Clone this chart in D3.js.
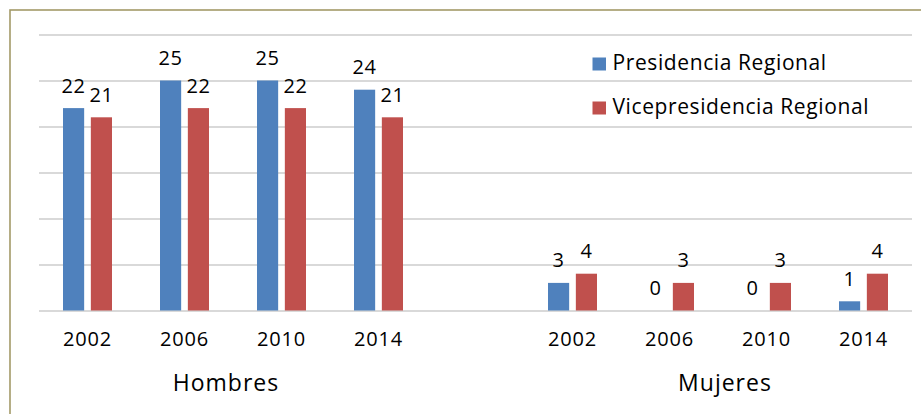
<!DOCTYPE html>
<html>
<head>
<meta charset="utf-8">
<script src="https://cdn.jsdelivr.net/npm/d3@7"></script>
<style>
  body { margin: 0; background: #fff; }
  text { font-family: "Open Sans", sans-serif; fill: #000; }
</style>
</head>
<body>
<div class="svg-container"></div>
<script>
// data
var groups = ["Hombres", "Mujeres"];
var years = ["2002", "2006", "2010", "2014"];
var seriesNames = ["Presidencia Regional", "Vicepresidencia Regional"];
var presidencia = [22, 25, 25, 24, 3, 0, 0, 1];
var vicepresidencia = [21, 22, 22, 21, 4, 3, 3, 4];
var yTicks = [0, 5, 10, 15, 20, 25, 30];
var colors = ["#4f81bd", "#c0504d"];

// set up canvas
var W = 921, H = 414;
var margin = {top: 34.5, right: 9, bottom: 103.5, left: 39},
    width = W - margin.left - margin.right,
    height = H - margin.top - margin.bottom;

var svg = d3.select(".svg-container").append("svg")
    .attr("width", W)
    .attr("height", H);

// outer frame (runs off the right and bottom of the shot)
svg.append("rect")
    .attr("x", 10).attr("y", 10)
    .attr("width", W + 20).attr("height", H + 20)
    .attr("fill", "none")
    .attr("stroke", "#a39a68")
    .attr("stroke-width", 1.6);

var g = svg.append("g")
    .attr("transform", "translate(" + margin.left + "," + margin.top + ")");

// 9 slots: 4 for Hombres, one blank, 4 for Mujeres
var slots = [];
years.forEach(function (y) { slots.push("H" + y); });
slots.push("blank");
years.forEach(function (y) { slots.push("M" + y); });
var dataSlots = slots.filter(function (s) { return s !== "blank"; });

var x0 = d3.scaleBand().domain(slots).range([0, width]);
var x1 = d3.scaleBand().domain([0, 1])
    .range([x0.bandwidth() / 2 - 24.5, x0.bandwidth() / 2 + 24.5])
    .paddingInner(0.24);
var yScale = d3.scaleLinear().domain([0, 30]).range([height, 0]);

// grid lines
g.append("g")
    .attr("class", "grid")
    .call(d3.axisLeft(yScale).tickValues(yTicks).tickSize(-width).tickFormat(""))
    .call(function (s) {
        s.select(".domain").remove();
        s.selectAll("line").attr("stroke", "#d9d9d9").attr("stroke-width", 2);
    });

var rows = dataSlots.map(function (s, i) {
    return {slot: s, values: [presidencia[i], vicepresidencia[i]]};
});

var cat = g.selectAll(".cat")
    .data(rows)
    .enter().append("g")
    .attr("class", "cat")
    .attr("transform", function (d) { return "translate(" + x0(d.slot) + ",0)"; });

var bar = cat.selectAll(".bar")
    .data(function (d) { return d.values.map(function (v, k) { return {k: k, v: v}; }); })
    .enter();

bar.append("rect")
    .attr("x", function (d) { return x1(d.k); })
    .attr("width", x1.bandwidth())
    .attr("y", function (d) { return yScale(d.v); })
    .attr("height", function (d) { return height - yScale(d.v); })
    .attr("fill", function (d) { return colors[d.k]; });

bar.append("text")
    .attr("x", function (d) { return x1(d.k) + x1.bandwidth() / 2; })
    .attr("y", function (d) { return yScale(d.v) - 15.5; })
    .attr("text-anchor", "middle")
    .style("font-size", "20px")
    .style("letter-spacing", "0.6px")
    .text(function (d) { return d.v; });

// year labels
g.selectAll(".year")
    .data(dataSlots)
    .enter().append("text")
    .attr("class", "year")
    .attr("x", function (s) { return x0(s) + x0.bandwidth() / 2; })
    .attr("y", height + 35.5)
    .attr("text-anchor", "middle")
    .style("font-size", "20px")
    .style("letter-spacing", "0.8px")
    .text(function (s) { return s.slice(1); });

// group labels
var groupShift = [-7, 7];
g.selectAll(".group")
    .data(groups)
    .enter().append("text")
    .attr("class", "group")
    .attr("x", function (d, i) {
        var a = x0(dataSlots[i * 4]), b = x0(dataSlots[i * 4 + 3]) + x0.bandwidth();
        return (a + b) / 2 + groupShift[i];
    })
    .attr("y", height + 80)
    .attr("text-anchor", "middle")
    .style("font-size", "23px")
    .style("letter-spacing", "1px")
    .text(function (d) { return d; });

// legend
var legend = svg.append("g")
    .attr("transform", "translate(592.5,57.5)");

var item = legend.selectAll(".legend")
    .data(seriesNames)
    .enter().append("g")
    .attr("transform", function (d, i) { return "translate(0," + (i * 44) + ")"; });

item.append("rect")
    .attr("width", 13.5).attr("height", 13)
    .attr("fill", function (d, i) { return colors[i]; });

item.append("text")
    .attr("x", 20)
    .attr("y", 12.5)
    .style("font-size", "21px")
    .style("letter-spacing", "0.6px")
    .text(function (d) { return d; });
</script>
</body>
</html>
